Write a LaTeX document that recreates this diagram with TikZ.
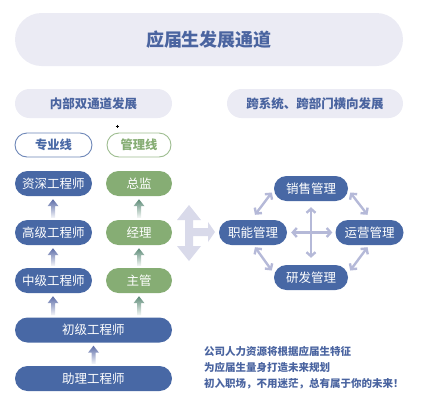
\documentclass[tikz,border=0pt]{standalone}
\usepackage{fontspec}
\setmainfont{Noto Sans CJK SC}
\usetikzlibrary{arrows.meta,calc}
\definecolor{pillbg}{HTML}{EBEBF4}
\definecolor{titleblue}{HTML}{4A64A0}
\definecolor{nodeblue}{HTML}{4868A5}
\definecolor{nodegreen}{HTML}{86AD74}
\definecolor{arrgreen}{HTML}{5E8C78}
\definecolor{arrblue}{HTML}{5D6DA8}
\definecolor{lav}{HTML}{D9DAEA}
\definecolor{conn}{HTML}{B5B9D8}
\newcommand\gradarrow[4]{\shade[top color=#3, bottom color=#3!6!white] let \p1=(#1.north), \p2=(#2.south) in (#4pt-2pt,\y1+2pt) -- (#4pt-2pt,\y2-10pt) -- (#4pt-5.5pt,\y2-10pt) -- (#4pt,\y2-3pt) -- (#4pt+5.5pt,\y2-10pt) -- (#4pt+2pt,\y2-10pt) -- (#4pt+2pt,\y1+2pt) -- cycle;}
\tikzset{
  headpill/.style={fill=pillbg, inner sep=0pt, text=titleblue, font=\fontsize{12.5}{14}\selectfont\bfseries, minimum height=29pt, rounded corners=14.5pt},
  linepill/.style={draw=#1!80!white, line width=0.9pt, fill=white, inner sep=0pt, minimum height=24pt, rounded corners=12pt, text=#1, font=\fontsize{12.3}{14}\selectfont\bfseries},
  lvl/.style={fill=#1, inner sep=0pt, minimum height=25pt, rounded corners=12.5pt, text=white, font=\fontsize{12.5}{14}\selectfont},
  biarrow/.style={draw=conn, line width=2.4pt, {Straight Barb[length=4pt,width=9pt]}-{Straight Barb[length=4pt,width=9pt]}}
}
\begin{document}
\begin{tikzpicture}[x=1pt,y=1pt]
\useasboundingbox (0,0) rectangle (432,-416);
% title
\node[fill=pillbg, inner sep=0pt, minimum width=388pt, minimum height=53pt, rounded corners=26.5pt, text=titleblue, font=\fontsize{18}{20}\selectfont\bfseries] (title) at (209,-39.5) {应届生发展通道};
\node[headpill, minimum width=157pt] (hl) at (93.5,-103.5) {内部双通道发展};
\node[headpill, minimum width=176pt] (hr) at (315,-103.5) {跨系统、跨部门横向发展};
% small plus mark
\draw[line width=0.6pt] (115.5,-126) -- (118.5,-126) (117,-124.5) -- (117,-127.5);
% line labels
\node[linepill=nodeblue, minimum width=77pt] (zy) at (53.5,-145) {专业线};
\node[linepill=nodegreen, minimum width=64pt] (gl) at (139,-145) {管理线};
% left column
\node[lvl=nodeblue, minimum width=77pt] (zs) at (53.5,-183.5) {资深工程师};
\node[lvl=nodeblue, minimum width=77pt] (gj) at (53.5,-232.5) {高级工程师};
\node[lvl=nodeblue, minimum width=77pt] (zj) at (53.5,-280.5) {中级工程师};
\node[lvl=nodegreen, minimum width=66pt] (zongjian) at (139,-183.5) {总监};
\node[lvl=nodegreen, minimum width=66pt] (jingli) at (139,-232.5) {经理};
\node[lvl=nodegreen, minimum width=66pt] (zhuguan) at (139,-280.5) {主管};
\node[lvl=nodeblue, minimum width=157pt] (cj) at (93.5,-330) {初级工程师};
\node[lvl=nodeblue, minimum width=157pt] (zl) at (93.5,-378.5) {助理工程师};
% gradient arrows
\gradarrow{gj}{zs}{arrblue}{53}
\gradarrow{zj}{gj}{arrblue}{53}
\gradarrow{cj}{zj}{arrblue}{53}
\gradarrow{jingli}{zongjian}{arrgreen}{139}
\gradarrow{zhuguan}{jingli}{arrgreen}{139}
\gradarrow{cj}{zhuguan}{arrgreen}{139}
\gradarrow{zl}{cj}{arrblue}{93.5}
% big lavender arrow
\fill[lav] (189,-205) -- (201,-220) -- (193,-220) -- (193,-228) -- (208,-228) -- (208,-222) -- (215,-232) -- (208,-242) -- (208,-236) -- (193,-236) -- (193,-246) -- (201,-246) -- (189,-261) -- (177,-246) -- (185,-246) -- (185,-220) -- (177,-220) -- cycle;
% right diagram
\node[lvl=nodeblue, minimum width=74pt] (xs) at (311,-188.5) {销售管理};
\node[lvl=nodeblue, minimum width=68pt] (zn) at (253,-232.5) {职能管理};
\node[lvl=nodeblue, minimum width=68pt] (yy) at (369.5,-232.5) {运营管理};
\node[lvl=nodeblue, minimum width=74pt] (yf) at (311,-277.5) {研发管理};
\draw[biarrow] ([shift={(2,5)}]zn.north) -- ([shift={(-2,-4)}]xs.west);
\draw[biarrow] ([shift={(2,-4)}]xs.east) -- ([shift={(-2,5)}]yy.north);
\draw[biarrow] ([shift={(-2,-2)}]yy.south) -- ([shift={(2,7)}]yf.east);
\draw[biarrow] ([shift={(2,-2)}]zn.south) -- ([shift={(-2,7)}]yf.west);
\draw[biarrow] ([shift={(0,-6)}]xs.south) -- ([shift={(0,7)}]yf.north);
\draw[biarrow] ([shift={(4,0)}]zn.east) -- ([shift={(-3,0)}]yy.west);
% bottom text
\node[anchor=north west, align=left, inner sep=0pt, text=titleblue, font=\fontsize{10.5}{16}\selectfont\bfseries] (note) at (204,-346) {公司人力资源将根据应届生特征\\为应届生量身打造未来规划\\初入职场，不用迷茫，总有属于你的未来！};
\end{tikzpicture}
\end{document}
